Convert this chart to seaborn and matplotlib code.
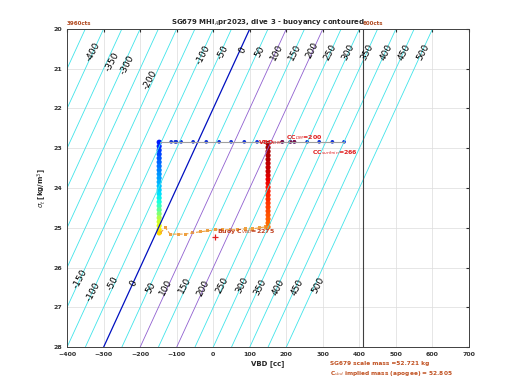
import numpy as np
import pandas as pd
import seaborn as sns
import matplotlib.pyplot as plt

# buoyancy contour levels [g] and where the neutral line sits
levels = [-500, -450, -400, -350, -300, -250, -200, -150, -100, -50, 0,
          50, 100, 150, 200, 250, 300, 350, 400, 450, 500]
neutral_vbd_at_20 = 100   # cc, B = 0 at sigma_t = 20
cc_per_sigma = 50         # cc shift per kg/m^3

# top row of surface points
surf_vbd = [-145, -115, -104, -101, -88, -55, -19, 16, 49, 85, 120,
            189, 211, 222, 257, 290, 326, 358]
surf_sigma = [22.84] * len(surf_vbd)
surf_late = [189, 211, 222]   # the darker points right of the climb line

# descent (pumped down, VBD ~ -150)
down_sigma = [22.85, 22.95, 23.05, 23.15, 23.25, 23.35, 23.45, 23.55, 23.65,
              23.75, 23.85, 23.95, 24.05, 24.15, 24.25, 24.35, 24.45, 24.55,
              24.65, 24.75, 24.85, 24.95, 25.05, 25.13]
down_vbd = [-148] * len(down_sigma)
down_time = [15, 16.5, 18, 19.5, 21, 22.5, 24, 25.5, 27, 28.5, 30, 31.5, 33,
             34.5, 36, 38, 42, 46, 51, 56, 60, 63, 66, 68]

# apogee / pump
apo_vbd = [-145, -131, -118, -96, -77, -57, -36, -16, 5, 25, 46, 66, 88,
           107, 126, 142, 150]
apo_sigma = [25.13, 25.0, 25.16, 25.16, 25.16, 25.13, 25.1, 25.08, 25.05,
             25.05, 25.05, 25.05, 25.03, 25.03, 25.0, 24.98, 24.98]

# climb (VBD ~ +150)
up_sigma = [24.98, 24.88, 24.78, 24.68, 24.58, 24.48, 24.38, 24.28, 24.18,
            24.08, 23.98, 23.88, 23.78, 23.68, 23.58, 23.48, 23.38, 23.28,
            23.18, 23.08, 22.98, 22.88]
up_vbd = [150] * len(up_sigma)
up_time = [79, 80, 81, 82, 83, 84, 85, 86, 87, 88, 89, 90, 91, 92, 93, 94,
           94.5, 95, 95.5, 96, 96.5, 97]

# contour labels: level, anchor (VBD, sigma)
label_level = [-400, -350, -300, -200, -100, -50, 0, 50, 100, 150, 200, 250,
               300, 350, 400, 450, 500,
               -150, -100, -50, 0, 50, 100, 150, 200, 250, 300, 350, 400,
               450, 500]
label_vbd = [-328, -276, -235, -172, -27, 27, 79, 128, 175, 224, 270, 319,
             369, 421, 475, 524, 574,
             -363, -328, -276, -219, -172, -131, -77, -27, 25, 79, 128, 178,
             230, 287]
label_sigma = [20.58, 20.83, 20.9, 21.28, 20.65, 20.6, 20.53, 20.58, 20.58,
               20.58, 20.53, 20.58, 20.58, 20.58, 20.58, 20.58, 20.58,
               26.27, 26.62, 26.39, 26.39, 26.51, 26.49, 26.44, 26.51, 26.44,
               26.44, 26.49, 26.49, 26.49, 26.44]

trip = pd.DataFrame({
    'vbd': down_vbd + up_vbd,
    'sigma': down_sigma + up_sigma,
    'time': down_time + up_time,
})

sns.set_style('white')
plt.rcParams['font.family'] = ['DejaVu Sans']

fig = plt.figure(figsize=(5.2, 3.9), dpi=100)
ax = fig.add_axes([0.129, 0.110, 0.773, 0.816])

# buoyancy field
vv, ss = np.meshgrid(np.linspace(-400, 700, 221), np.linspace(20, 28, 81))
buoy = vv - neutral_vbd_at_20 + cc_per_sigma * (ss - 20)
line_cols = ['#0010c0' if lv == 0 else '#9060d0' if lv in (100, 200)
             else '#40e4ea' for lv in levels]
ax.contour(vv, ss, buoy, levels=levels, colors=line_cols,
           linewidths=[0.9 if lv == 0 else 0.6 for lv in levels])
for lv, lx, ly in zip(label_level, label_vbd, label_sigma):
    ax.text(lx, ly, str(lv), fontsize=6.5, color='k', rotation=62,
            rotation_mode='anchor', ha='center', va='center')

ax.axvline(410, color='#404040', lw=0.8)

# surface points
sns.lineplot(x=surf_vbd, y=surf_sigma, color='#a0a0a0', lw=0.8,
             sort=False, ax=ax)
sns.scatterplot(x=surf_vbd, y=surf_sigma, color='#1030d8', s=7,
                edgecolor='none', ax=ax)
sns.scatterplot(x=surf_late, y=[22.84] * len(surf_late), color='#801040',
                s=7, edgecolor='none', ax=ax)

# apogee pump segment
sns.lineplot(x=apo_vbd, y=apo_sigma, color='#eea040', lw=0.8,
             linestyle='--', sort=False, ax=ax)
sns.scatterplot(x=apo_vbd, y=apo_sigma, color='#eea040', s=5, marker='s',
                edgecolor='none', ax=ax)

# dive track coloured by time
sns.scatterplot(data=trip, x='vbd', y='sigma', hue='time',
                palette=plt.get_cmap('jet'), hue_norm=(0, 100), s=14,
                edgecolor='none', legend=False, ax=ax)
ax.plot(5, 25.23, '+', color='#e02020', ms=5, mew=0.9)

red = '#e02020'
ax.text(122, 22.86, r'VBD$_{DM}$', color=red, fontsize=4.5, fontweight='bold',
        ha='left', va='center')
ax.text(200, 22.72, r'CC$_{DM}$=200', color=red, fontsize=4.5,
        fontweight='bold', ha='left', va='center')
ax.text(270, 23.1, r'CC$_{surfmin}$=266', color=red, fontsize=4.5,
        fontweight='bold', ha='left', va='center')
ax.text(10, 25.1, r'Buoy C$_{VBD}$=2275', color='#c04020', fontsize=4.5,
        fontweight='bold', ha='left', va='center')

ax.set_xlim(-400, 700)
ax.set_ylim(28, 20)
ax.set_xticks(range(-400, 701, 100))
ax.set_yticks(range(20, 29))
ax.grid(True, color='#dcdcdc', lw=0.5)
ax.set_axisbelow(True)
ax.tick_params(labelsize=4.5, length=2, direction='in', colors='#303030',
               top=True, right=True)
for lab in ax.get_xticklabels() + ax.get_yticklabels():
    lab.set_fontweight('bold')
for sp in ax.spines.values():
    sp.set_color('#404040')
    sp.set_linewidth(0.7)

ax.set_xlabel('VBD [cc]', fontsize=5, fontweight='bold', labelpad=2)
ax.set_ylabel(r'$\sigma_t$ [kg/m$^3$]', fontsize=5, fontweight='bold',
              labelpad=3)
ax.set_title(r'SG679 MHI$_A$pr2023, dive 3 - buoyancy contoured',
             fontsize=5, fontweight='bold', pad=3)

brown = '#b04a20'
ax.text(-400, 19.93, '3960cts', color=brown, fontsize=4, fontweight='bold',
        va='bottom', ha='left')
ax.text(410, 19.93, '600cts', color=brown, fontsize=4, fontweight='bold',
        va='bottom', ha='left')
fig.text(0.635, 0.063, 'SG679 scale mass =52.721 kg', color='#c05020',
         fontsize=4.2, fontweight='bold')
fig.text(0.635, 0.038, r'C$_{vbd}$ implied mass (apogee) = 52.805',
         color='#c05020', fontsize=4.2, fontweight='bold')

fig.savefig('out.png', dpi=100)
